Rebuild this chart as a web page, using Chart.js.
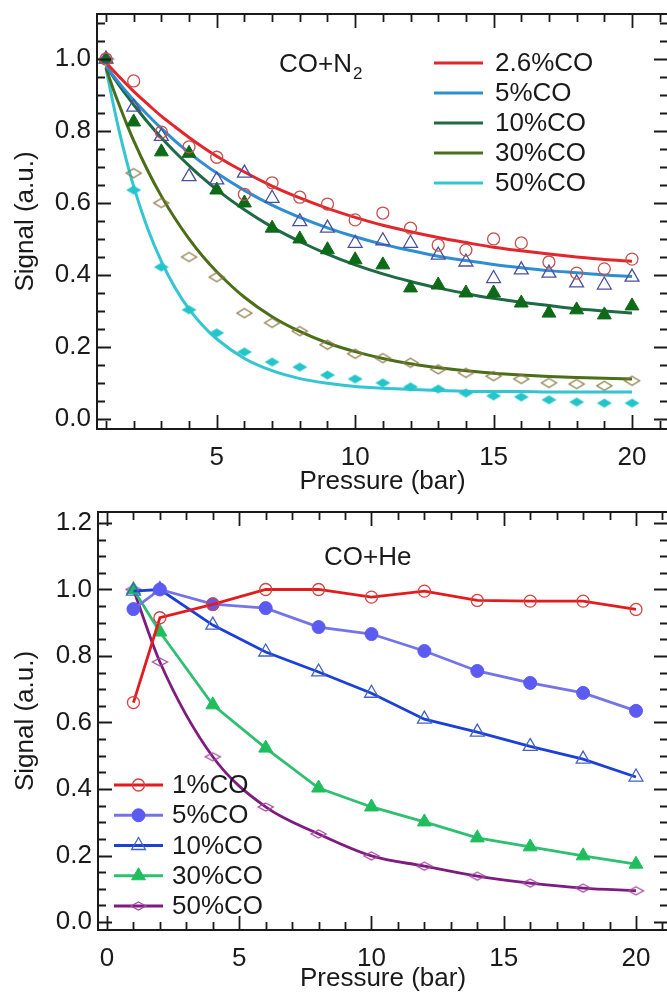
<!DOCTYPE html>
<html>
<head>
<meta charset="utf-8">
<script src="https://cdn.jsdelivr.net/npm/chart.js@4.4.1/dist/chart.umd.min.js"></script>
<style>
  html, body { margin: 0; padding: 0; background: #fff; }
  #wrap { position: relative; width: 667px; height: 997px; overflow: hidden; }
  #n2Chart { position: absolute; left: 0; top: 0; }
  #heChart { position: absolute; left: 0; top: 500px; }
</style>
</head>
<body>
<div id="wrap">
  <canvas id="n2Chart" width="680" height="500"></canvas>
  <canvas id="heChart" width="680" height="497"></canvas>
</div>
<script>
// ---------- CO + N2 : measured signal vs pressure ----------
const n2Pressure = [1,2,3,4,5,6,7,8,9,10,11,12,13,14,15,16,17,18,19,20];
const n2Signal_2_6 = [1.0,0.939,0.797,0.756,0.727,0.624,0.656,0.616,0.597,0.553,0.572,0.530,0.483,0.469,0.500,0.489,0.436,0.405,0.417,0.444];
const n2Signal_5   = [1.0,0.866,0.785,0.673,0.664,0.683,0.613,0.548,0.530,0.488,0.495,0.488,0.455,0.436,0.390,0.414,0.405,0.378,0.372,0.394];
const n2Signal_10  = [1.0,0.825,0.742,0.738,0.636,0.600,0.530,0.500,0.470,0.442,0.428,0.364,0.372,0.350,0.350,0.322,0.294,0.303,0.289,0.314];
const n2Signal_30  = [1.0,0.683,0.600,0.450,0.394,0.294,0.267,0.244,0.206,0.181,0.169,0.156,0.138,0.128,0.119,0.111,0.100,0.097,0.092,0.106];
const n2Signal_50  = [1.0,0.636,0.422,0.303,0.239,0.186,0.158,0.144,0.122,0.111,0.100,0.089,0.083,0.072,0.064,0.061,0.053,0.047,0.044,0.044];

// ---------- CO + N2 : fitted decay curves ----------
const fitPressure = [1,1.25,1.5,1.75,2,2.5,3,3.5,4,4.5,5,6,7,8,9,10,11,12,13,14,15,16,17,18,19,20];
const fit_2_6 = [0.990,0.969,0.949,0.929,0.910,0.875,0.841,0.811,0.782,0.755,0.730,0.686,0.647,0.614,0.585,0.560,0.538,0.520,0.504,0.490,0.477,0.467,0.458,0.450,0.443,0.438];
const fit_5   = [0.980,0.955,0.931,0.908,0.886,0.845,0.807,0.772,0.740,0.710,0.683,0.635,0.594,0.560,0.531,0.506,0.485,0.468,0.452,0.440,0.429,0.420,0.412,0.406,0.400,0.396];
const fit_10  = [0.980,0.952,0.924,0.898,0.873,0.825,0.781,0.741,0.704,0.669,0.637,0.581,0.533,0.493,0.458,0.428,0.403,0.382,0.364,0.348,0.335,0.324,0.315,0.306,0.300,0.294];
const fit_30  = [0.975,0.919,0.868,0.819,0.773,0.691,0.619,0.556,0.500,0.451,0.409,0.338,0.284,0.243,0.211,0.187,0.168,0.153,0.142,0.134,0.127,0.122,0.118,0.115,0.113,0.111];
const fit_50  = [0.975,0.879,0.792,0.715,0.646,0.530,0.438,0.364,0.305,0.259,0.222,0.168,0.134,0.112,0.099,0.090,0.085,0.082,0.079,0.077,0.076,0.076,0.075,0.075,0.075,0.075];
const n2Labels = ['2.6%CO','5%CO','10%CO','30%CO','50%CO'];

// ---------- CO + He : measured signal vs pressure ----------
const hePressure = [1,2,4,6,8,10,12,14,16,18,20];
const heSignal_1  = [0.660,0.915,0.955,1.000,1.000,0.977,0.995,0.967,0.965,0.965,0.940];
const heSignal_5  = [0.941,1.000,0.956,0.944,0.887,0.866,0.815,0.755,0.719,0.689,0.635];
const heSignal_10 = [0.995,1.000,0.893,0.812,0.752,0.688,0.610,0.571,0.528,0.490,0.436];
const heSignal_30 = [1.000,0.872,0.653,0.523,0.403,0.346,0.301,0.253,0.226,0.199,0.174];
const heSignal_50 = [1.000,0.782,0.497,0.346,0.265,0.199,0.168,0.138,0.117,0.102,0.094];
const heLabels = ['1%CO','5%CO','10%CO','30%CO','50%CO'];

// ---------- axis tick labels ----------
const n2XTicks = [5,10,15,20];
const n2YTicks = [0.0,0.2,0.4,0.6,0.8,1.0];
const heXTicks = [0,5,10,15,20];
const heYTicks = [0.0,0.2,0.4,0.6,0.8,1.0,1.2];

const FONT = '"Liberation Sans", Arial, Helvetica, sans-serif';
const FS = 26;
const INK = '#1a1a1a';

function pairs(xs, ys) { return xs.map((x, i) => ({ x: x, y: ys[i] })); }

// flattened diamond marker drawn onto a small canvas
function diamond(w, h, stroke, fill, lw) {
  const c = document.createElement('canvas');
  c.width = w + 4; c.height = h + 4;
  const g = c.getContext('2d');
  g.beginPath();
  g.moveTo(c.width / 2, 2);
  g.lineTo(c.width - 2, c.height / 2);
  g.lineTo(c.width / 2, c.height - 2);
  g.lineTo(2, c.height / 2);
  g.closePath();
  if (fill) { g.fillStyle = fill; g.fill(); }
  if (stroke) { g.strokeStyle = stroke; g.lineWidth = lw || 1.3; g.stroke(); }
  return c;
}

// frame around the plot area with inward major/minor ticks on all four sides
const boxTicks = {
  id: 'boxTicks',
  afterDraw(chart, args, o) {
    const { ctx, chartArea: a } = chart;
    const xs = chart.scales.x, ys = chart.scales.y;
    ctx.save();
    ctx.strokeStyle = INK;
    ctx.lineWidth = 2;
    ctx.strokeRect(a.left, a.top, a.right - a.left, a.bottom - a.top);
    ctx.lineWidth = 1.8;
    const isMajor = (v, m) => Math.abs(v / m - Math.round(v / m)) < 1e-6;
    ctx.beginPath();
    for (let k = Math.ceil(xs.min / o.xMinor - 1e-9); k * o.xMinor <= xs.max; k++) {
      const v = k * o.xMinor;
      const px = Math.round(xs.getPixelForValue(v)) + 0.5;
      if (px < a.left + 1 || px > a.right - 1) continue;
      const len = isMajor(v, o.xMajor) ? o.majorLen : o.minorLen;
      ctx.moveTo(px, a.bottom); ctx.lineTo(px, a.bottom - len);
      ctx.moveTo(px, a.top); ctx.lineTo(px, a.top + len);
    }
    for (let k = Math.ceil(ys.min / o.yMinor - 1e-9); k * o.yMinor <= ys.max + 1e-9; k++) {
      const v = k * o.yMinor;
      const py = Math.round(ys.getPixelForValue(v)) + 0.5;
      if (py < a.top + 1 || py > a.bottom - 1) continue;
      const len = isMajor(v, o.yMajor) ? o.majorLen : o.minorLen;
      ctx.moveTo(a.left, py); ctx.lineTo(a.left + len, py);
      ctx.moveTo(a.right, py); ctx.lineTo(a.right - len, py);
    }
    ctx.stroke();
    ctx.restore();
  }
};

// legend drawn inside the plot area
const innerLegend = {
  id: 'innerLegend',
  afterDraw(chart, args, o) {
    const ctx = chart.ctx;
    ctx.save();
    ctx.font = o.fontSize + 'px ' + FONT;
    ctx.textBaseline = 'middle';
    let row = 0;
    chart.data.datasets.forEach(ds => {
      if (!ds.legendText) return;
      const y = o.y + row * o.dy;
      ctx.strokeStyle = ds.borderColor;
      ctx.lineWidth = ds.borderWidth;
      ctx.beginPath();
      ctx.moveTo(o.x, y); ctx.lineTo(o.x + o.len, y);
      ctx.stroke();
      if (o.markers && ds.pointStyle) {
        ctx.fillStyle = ds.pointBackgroundColor;
        ctx.strokeStyle = ds.pointBorderColor;
        ctx.lineWidth = ds.pointBorderWidth;
        Chart.helpers.drawPoint(ctx, {
          pointStyle: ds.pointStyle, radius: ds.pointRadius, rotation: 0,
          borderWidth: ds.pointBorderWidth
        }, o.x + o.len / 2, y);
      }
      ctx.fillStyle = INK;
      ctx.fillText(ds.legendText, o.textX, y + 1);
      row++;
    });
    ctx.restore();
  }
};

// gas-mixture caption, with optional subscript
const caption = {
  id: 'caption',
  afterDraw(chart, args, o) {
    const ctx = chart.ctx;
    ctx.save();
    ctx.fillStyle = INK;
    ctx.textBaseline = 'alphabetic';
    ctx.font = o.fontSize + 'px ' + FONT;
    ctx.fillText(o.text, o.x, o.y);
    if (o.sub) {
      const w = ctx.measureText(o.text).width;
      ctx.font = Math.round(o.fontSize * 0.66) + 'px ' + FONT;
      ctx.fillText(o.sub, o.x + w + 1, o.y + 7);
    }
    ctx.restore();
  }
};

function axisOptions(cfg) {
  return {
    x: {
      type: 'linear', min: cfg.xMin, max: cfg.xMax,
      grid: { display: false, drawTicks: false },
      border: { display: false },
      afterBuildTicks: s => { s.ticks = cfg.xTicks.map(v => ({ value: v })); },
      afterFit: s => { s.height = cfg.xAxisHeight; s.paddingLeft = 0; s.paddingRight = 0; },
      ticks: { padding: cfg.xTickPad, color: INK, font: { family: FONT, size: FS }, maxRotation: 0,
               callback: v => String(v) },
      title: { display: true, text: 'Pressure (bar)', color: INK,
               font: { family: FONT, size: FS }, padding: { top: 0, bottom: cfg.xTitlePad } }
    },
    y: {
      type: 'linear', min: cfg.yMin, max: cfg.yMax,
      grid: { display: false, drawTicks: false },
      border: { display: false },
      afterBuildTicks: s => { s.ticks = cfg.yTicks.map(v => ({ value: v })); },
      afterFit: s => { s.width = cfg.yAxisWidth; s.paddingTop = 0; s.paddingBottom = 0; },
      ticks: { padding: 6, color: INK, font: { family: FONT, size: FS },
               callback: v => Number(v).toFixed(1) },
      title: { display: true, text: 'Signal (a.u.)', color: INK,
               font: { family: FONT, size: FS }, padding: { top: 10, bottom: 0 } }
    }
  };
}

// ---------------- top panel: CO + N2 ----------------
const n2FitColors = ['#e2262b', '#2e8ed2', '#1d6a44', '#4b6e18', '#33c5d2'];
const n2FitSets = [fit_2_6, fit_5, fit_10, fit_30, fit_50];
const n2PointSets = [n2Signal_2_6, n2Signal_5, n2Signal_10, n2Signal_30, n2Signal_50];
const n2Markers = [
  { pointStyle: 'circle',   pointRadius: 6, pointBorderColor: '#c4514e', pointBackgroundColor: 'rgba(0,0,0,0)', pointBorderWidth: 1.3 },
  { pointStyle: 'triangle', pointRadius: 8, pointBorderColor: '#4a4f9f', pointBackgroundColor: 'rgba(0,0,0,0)', pointBorderWidth: 1.3 },
  { pointStyle: 'triangle', pointRadius: 8, pointBorderColor: '#0d6a17', pointBackgroundColor: '#0d6a17', pointBorderWidth: 1 },
  { pointStyle: diamond(15, 9, '#8a7a48', null, 1.3), pointRadius: 7, pointBorderColor: '#8a7a48', pointBackgroundColor: 'rgba(0,0,0,0)', pointBorderWidth: 1.3 },
  { pointStyle: diamond(15, 9, null, '#22c5c9'), pointRadius: 7, pointBorderColor: '#22c5c9', pointBackgroundColor: '#22c5c9', pointBorderWidth: 1 }
];

const n2Datasets = [];
n2PointSets.forEach((ys, i) => {
  n2Datasets.push(Object.assign({
    data: pairs(n2Pressure, ys), showLine: false, borderColor: n2Markers[i].pointBorderColor
  }, n2Markers[i]));
});
n2FitSets.forEach((ys, i) => {
  n2Datasets.push({
    legendText: n2Labels[i], data: pairs(fitPressure, ys), showLine: true,
    borderColor: n2FitColors[i], borderWidth: 3, pointRadius: 0,
    cubicInterpolationMode: 'monotone'
  });
});

new Chart(document.getElementById('n2Chart'), {
  type: 'scatter',
  data: { datasets: n2Datasets },
  options: {
    responsive: false, animation: false, devicePixelRatio: 1,
    layout: { padding: { top: 14, right: 12, left: 0, bottom: 0 } },
    plugins: {
      legend: { display: false }, tooltip: { enabled: false },
      boxTicks: { xMajor: 5, xMinor: 1, yMajor: 0.2, yMinor: 0.05, majorLen: 14, minorLen: 8 },
      innerLegend: { x: 434, len: 49, textX: 495, y: 63, dy: 30, fontSize: FS, markers: false },
      caption: { text: 'CO+N', sub: '2', x: 279, y: 72, fontSize: FS }
    },
    scales: axisOptions({
      xMin: 0.675, xMax: 21.3, yMin: -0.028, yMax: 1.125,
      xTicks: n2XTicks, yTicks: n2YTicks,
      xAxisHeight: 71, yAxisWidth: 97, xTickPad: 13, xTitlePad: 3
    })
  },
  plugins: [boxTicks, innerLegend, caption]
});

// ---------------- bottom panel: CO + He ----------------
const heStyles = [
  { borderColor: '#e31b1e', pointStyle: 'circle',   pointRadius: 6, pointBorderColor: '#d4423f', pointBackgroundColor: 'rgba(0,0,0,0)', pointBorderWidth: 1.3 },
  { borderColor: '#7474e8', pointStyle: 'circle',   pointRadius: 6.5, pointBorderColor: '#5b5bf2', pointBackgroundColor: '#5b5bf2', pointBorderWidth: 1 },
  { borderColor: '#1b3fd9', pointStyle: 'triangle', pointRadius: 8, pointBorderColor: '#4262c6', pointBackgroundColor: 'rgba(0,0,0,0)', pointBorderWidth: 1.3 },
  { borderColor: '#2ebf70', pointStyle: 'triangle', pointRadius: 8, pointBorderColor: '#1fbe5d', pointBackgroundColor: '#1fbe5d', pointBorderWidth: 1 },
  { borderColor: '#7e1a80', pointStyle: diamond(15, 8, '#a14a9f', null, 1.3), pointRadius: 7, pointBorderColor: '#a14a9f', pointBackgroundColor: 'rgba(0,0,0,0)', pointBorderWidth: 1.3 }
];
const heSets = [heSignal_1, heSignal_5, heSignal_10, heSignal_30, heSignal_50];
const heDatasets = heSets.map((ys, i) => Object.assign({
  legendText: heLabels[i], data: pairs(hePressure, ys), showLine: true, borderWidth: 2.8,
  cubicInterpolationMode: i === 4 ? 'monotone' : 'default', tension: 0
}, heStyles[i]));

new Chart(document.getElementById('heChart'), {
  type: 'scatter',
  data: { datasets: heDatasets },
  options: {
    responsive: false, animation: false, devicePixelRatio: 1,
    layout: { padding: { top: 12, right: 12, left: 0, bottom: 0 } },
    plugins: {
      legend: { display: false }, tooltip: { enabled: false },
      boxTicks: { xMajor: 5, xMinor: 1, yMajor: 0.2, yMinor: 0.05, majorLen: 14, minorLen: 8 },
      innerLegend: { x: 114, len: 49, textX: 172, y: 285, dy: 30.25, fontSize: FS, markers: true },
      caption: { text: 'CO+He', x: 324, y: 65, fontSize: FS }
    },
    scales: axisOptions({
      xMin: -0.34, xMax: 21.21, yMin: -0.024, yMax: 1.233,
      xTicks: heXTicks, yTicks: heYTicks,
      xAxisHeight: 67, yAxisWidth: 98, xTickPad: 13, xTitlePad: 3
    })
  },
  plugins: [boxTicks, innerLegend, caption]
});
</script>
</body>
</html>
